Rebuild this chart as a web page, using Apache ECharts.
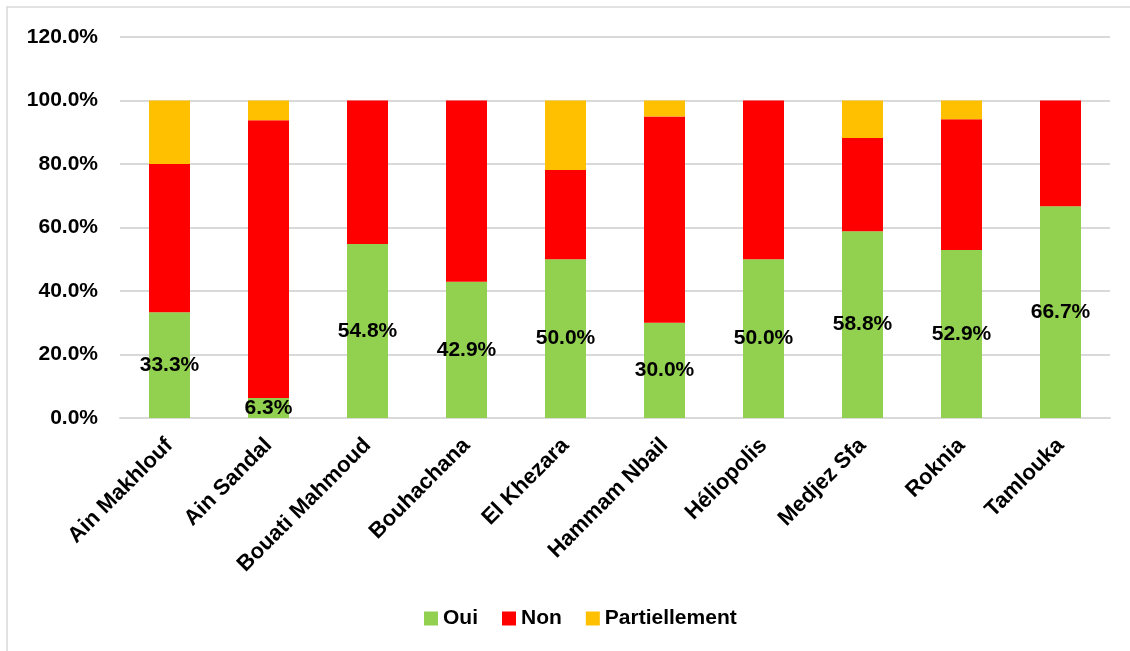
<!DOCTYPE html>
<html>
<head>
<meta charset="utf-8">
<script src="https://cdn.jsdelivr.net/npm/echarts@6/dist/echarts.min.js"></script>
<style>
    html, body { margin: 0; padding: 0; background: #fff; }
    #main { width: 1130px; height: 651px; }
</style>
</head>
<body>
<div id="main"></div>
<script>
// communes
var communes = ['Ain Makhlouf', 'Ain Sandal', 'Bouati Mahmoud', 'Bouhachana', 'El Khezara',
    'Hammam Nbail', 'Héliopolis', 'Medjez Sfa', 'Roknia', 'Tamlouka'];
// pourcentages par réponse
var oui = [33.3, 6.3, 54.8, 42.9, 50.0, 30.0, 50.0, 58.8, 52.9, 66.7];
var non = [46.7, 87.5, 45.2, 57.1, 28.1, 65.0, 50.0, 29.4, 41.2, 33.3];
var partiel = [20.0, 6.2, 0, 0, 21.9, 5.0, 0, 11.8, 5.9, 0];
var yTicks = [0, 20, 40, 60, 80, 100, 120];

var fontName = 'Liberation Sans';

var chart = echarts.init(document.getElementById('main'));

var option = {
    color: ['#92D050', '#FF0000', '#FFC000'],
    animation: false,
    graphic: [{
        type: 'rect',
        shape: { x: 7, y: 7, width: 1200, height: 700 },
        style: { fill: 'none', stroke: '#d9d9d9', lineWidth: 1.5 },
        silent: true
    }],
    grid: {
        left: 120,
        right: 20,
        top: 37,
        bottom: 233
    },
    legend: {
        data: ['Oui', 'Non', 'Partiellement'],
        left: 419,
        top: 603,
        itemWidth: 14,
        itemHeight: 14,
        itemGap: 24,
        icon: 'rect',
        textStyle: { fontFamily: fontName, fontWeight: 'bold', fontSize: 21, color: '#000' }
    },
    xAxis: {
        type: 'category',
        data: communes,
        axisLine: { show: true, lineStyle: { color: '#d9d9d9', width: 2 } },
        axisTick: { show: false },
        axisLabel: {
            rotate: 45,
            interval: 0,
            margin: 24,
            fontFamily: fontName,
            fontWeight: 'bold',
            fontSize: 22,
            color: '#000'
        }
    },
    yAxis: {
        type: 'value',
        min: yTicks[0],
        max: yTicks[yTicks.length - 1],
        interval: 20,
        axisLine: { show: false },
        axisTick: { show: false },
        splitLine: { lineStyle: { color: '#d9d9d9', width: 2 } },
        axisLabel: {
            margin: 22,
            fontFamily: fontName,
            fontWeight: 'bold',
            fontSize: 21,
            color: '#000',
            formatter: function (v) { return v.toFixed(1) + '%'; }
        }
    },
    series: [
        {
            name: 'Oui',
            type: 'bar',
            stack: 'total',
            barWidth: 41,
            data: oui,
            label: {
                show: true,
                position: 'inside',
                fontFamily: fontName,
                fontWeight: 'bold',
                fontSize: 21,
                color: '#000',
                formatter: function (p) { return p.value.toFixed(1) + '%'; }
            }
        },
        {
            name: 'Non',
            type: 'bar',
            stack: 'total',
            barWidth: 41,
            data: non
        },
        {
            name: 'Partiellement',
            type: 'bar',
            stack: 'total',
            barWidth: 41,
            data: partiel
        }
    ]
};

chart.setOption(option);
</script>
</body>
</html>
